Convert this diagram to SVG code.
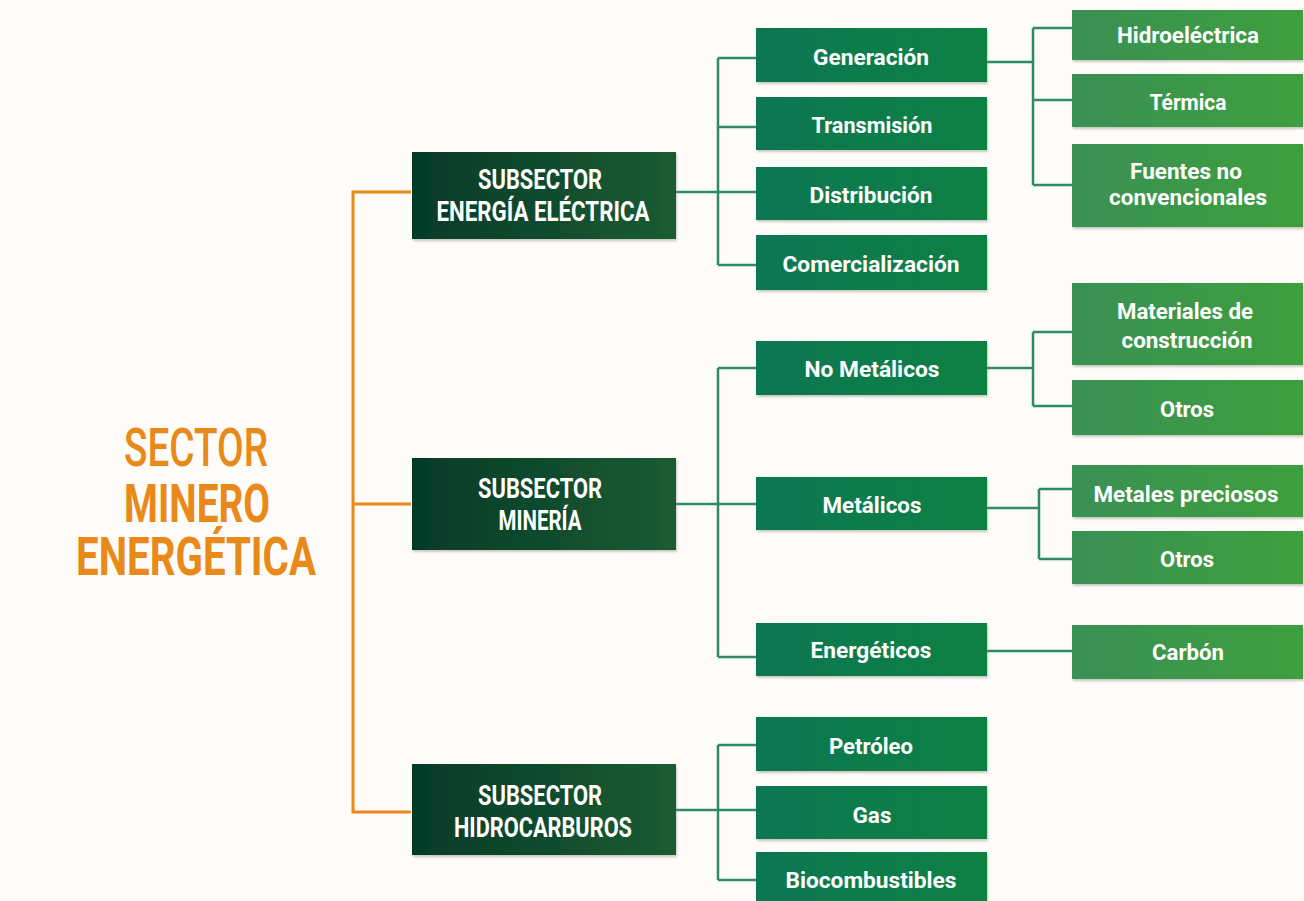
<svg xmlns="http://www.w3.org/2000/svg" width="1304" height="901" viewBox="0 0 1304 901">
<defs>
<linearGradient id="g1" x1="0" y1="0" x2="1" y2="0"><stop offset="0" stop-color="#053A29"/><stop offset="1" stop-color="#1B5C31"/></linearGradient>
<linearGradient id="g2" x1="0" y1="0" x2="1" y2="0"><stop offset="0" stop-color="#0C7654"/><stop offset="1" stop-color="#078142"/></linearGradient>
<linearGradient id="g3" x1="0" y1="0" x2="1" y2="0"><stop offset="0" stop-color="#3A9054"/><stop offset="1" stop-color="#3D9F3D"/></linearGradient>
<filter id="sh" x="-5%" y="-10%" width="112%" height="130%"><feDropShadow dx="1" dy="2" stdDeviation="1.2" flood-color="#8a8a80" flood-opacity="0.45"/></filter>
<filter id="ts" x="-5%" y="-20%" width="110%" height="140%"><feDropShadow dx="0" dy="0" stdDeviation="0.6" flood-color="#e8e0a0" flood-opacity="0.6"/></filter>
</defs>
<style>
.l1{fill:url(#g1);filter:url(#sh)}
.l2{fill:url(#g2);filter:url(#sh)}
.l3{fill:url(#g3);filter:url(#sh)}
text{font-family:Roboto,"Liberation Sans",sans-serif;font-weight:700;text-anchor:middle}
.t1{font-size:28px;fill:#FFFFFF}
.t2{font-size:22px;fill:#FFFFFF}
.sec{fill:#E8891A;font-size:54px}
.or{fill:none;stroke:#E8891A;stroke-width:3}
.gr{fill:none;stroke:#2E8A62;stroke-width:2.5}
</style>
<rect x="0" y="0" width="1304" height="901" fill="#FDFCF8"/>

<g id="connectors">
<path class="or" d="M411,192 H353 V812 H411 M353,504 H411"/>
<path class="gr" d="M676,192 H756 M718,58 V265 M718,58 H756 M718,127 H756 M718,265 H756"/>
<path class="gr" d="M987,62 H1033 M1033,28 V185 M1033,28 H1072 M1033,100 H1072 M1033,185 H1072"/>
<path class="gr" d="M676,504 H756 M718,368 V657 M718,368 H756 M718,657 H756"/>
<path class="gr" d="M987,368 H1033 M1033,332 V406 M1033,332 H1072 M1033,406 H1072"/>
<path class="gr" d="M987,508 H1039 M1039,489 V559 M1039,489 H1072 M1039,559 H1072"/>
<path class="gr" d="M987,651 H1072"/>
<path class="gr" d="M676,810 H718 M718,745 V880 M718,745 H756 M718,810 H756 M718,880 H756"/>
</g>

<g id="sector">
<text class="sec" x="196" y="466" style="font-weight:500" textLength="144" lengthAdjust="spacingAndGlyphs">SECTOR</text>
<text class="sec" x="197" y="522" textLength="146" lengthAdjust="spacingAndGlyphs">MINERO</text>
<text class="sec" x="196" y="575" textLength="240" lengthAdjust="spacingAndGlyphs">ENERGÉTICA</text>
</g>

<g id="sub-energia">
<rect class="l1" x="412" y="152" width="264" height="87"/>
<text class="t1" x="540" y="189" textLength="124" lengthAdjust="spacingAndGlyphs">SUBSECTOR</text>
<text class="t1" x="543" y="221" textLength="213" lengthAdjust="spacingAndGlyphs">ENERGÍA ELÉCTRICA</text>
</g>
<g id="sub-mineria">
<rect class="l1" x="412" y="458" width="264" height="92"/>
<text class="t1" x="540" y="498" textLength="124" lengthAdjust="spacingAndGlyphs">SUBSECTOR</text>
<text class="t1" x="540" y="530" textLength="83" lengthAdjust="spacingAndGlyphs">MINERÍA</text>
</g>
<g id="sub-hidrocarburos">
<rect class="l1" x="412" y="764" width="264" height="91"/>
<text class="t1" x="540" y="805" textLength="124" lengthAdjust="spacingAndGlyphs">SUBSECTOR</text>
<text class="t1" x="543" y="837" textLength="178" lengthAdjust="spacingAndGlyphs">HIDROCARBUROS</text>
</g>

<g id="generacion"><rect class="l2" x="756" y="28" width="231" height="54"/><text class="t2" x="871" y="65" textLength="116" lengthAdjust="spacingAndGlyphs">Generación</text></g>
<g id="transmision"><rect class="l2" x="756" y="97" width="231" height="53"/><text class="t2" x="872" y="133" textLength="121" lengthAdjust="spacingAndGlyphs">Transmisión</text></g>
<g id="distribucion"><rect class="l2" x="756" y="167" width="231" height="53"/><text class="t2" x="871" y="203" textLength="123" lengthAdjust="spacingAndGlyphs">Distribución</text></g>
<g id="comercializacion"><rect class="l2" x="756" y="235" width="231" height="55"/><text class="t2" x="871" y="272" textLength="177" lengthAdjust="spacingAndGlyphs">Comercialización</text></g>

<g id="hidroelectrica"><rect class="l3" x="1072" y="10" width="231" height="50"/><text class="t2" x="1188" y="43" textLength="142" lengthAdjust="spacingAndGlyphs">Hidroeléctrica</text></g>
<g id="termica"><rect class="l3" x="1072" y="74" width="231" height="53"/><text class="t2" x="1188" y="110" textLength="77" lengthAdjust="spacingAndGlyphs">Térmica</text></g>
<g id="fuentes"><rect class="l3" x="1072" y="144" width="231" height="83"/><text class="t2" x="1186" y="179" textLength="112" lengthAdjust="spacingAndGlyphs">Fuentes no</text><text class="t2" x="1188" y="205" textLength="158" lengthAdjust="spacingAndGlyphs">convencionales</text></g>

<g id="no-metalicos"><rect class="l2" x="756" y="341" width="231" height="54"/><text class="t2" x="872" y="377" textLength="135" lengthAdjust="spacingAndGlyphs">No Metálicos</text></g>
<g id="metalicos"><rect class="l2" x="756" y="477" width="231" height="53"/><text class="t2" x="872" y="513" textLength="99" lengthAdjust="spacingAndGlyphs">Metálicos</text></g>
<g id="energeticos"><rect class="l2" x="756" y="623" width="231" height="53"/><text class="t2" x="871" y="658" textLength="121" lengthAdjust="spacingAndGlyphs">Energéticos</text></g>

<g id="materiales"><rect class="l3" x="1072" y="283" width="231" height="82"/><text class="t2" x="1185" y="319" textLength="136" lengthAdjust="spacingAndGlyphs">Materiales de</text><text class="t2" x="1187" y="348" textLength="131" lengthAdjust="spacingAndGlyphs">construcción</text></g>
<g id="otros-nm"><rect class="l3" x="1072" y="380" width="231" height="55"/><text class="t2" x="1187" y="417" textLength="54" lengthAdjust="spacingAndGlyphs">Otros</text></g>
<g id="metales-preciosos"><rect class="l3" x="1072" y="465" width="231" height="52"/><text class="t2" x="1186" y="502" textLength="185" lengthAdjust="spacingAndGlyphs">Metales preciosos</text></g>
<g id="otros-m"><rect class="l3" x="1072" y="531" width="231" height="53"/><text class="t2" x="1187" y="567" textLength="54" lengthAdjust="spacingAndGlyphs">Otros</text></g>
<g id="carbon"><rect class="l3" x="1072" y="625" width="231" height="54"/><text class="t2" x="1188" y="660" textLength="72" lengthAdjust="spacingAndGlyphs">Carbón</text></g>

<g id="petroleo"><rect class="l2" x="756" y="717" width="231" height="54"/><text class="t2" x="871" y="754" textLength="84" lengthAdjust="spacingAndGlyphs">Petróleo</text></g>
<g id="gas"><rect class="l2" x="756" y="786" width="231" height="53"/><text class="t2" x="872" y="823" textLength="39" lengthAdjust="spacingAndGlyphs">Gas</text></g>
<g id="biocombustibles"><rect class="l2" x="756" y="852" width="231" height="60"/><text class="t2" x="871" y="888" textLength="171" lengthAdjust="spacingAndGlyphs">Biocombustibles</text></g>
</svg>
